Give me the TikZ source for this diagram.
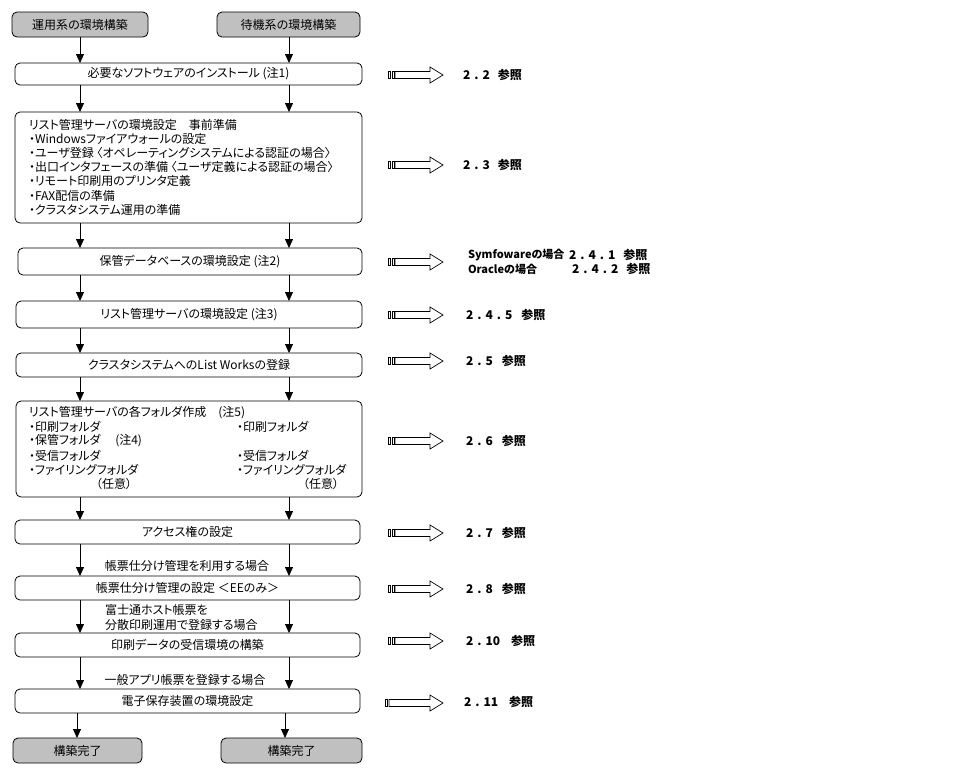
\documentclass[tikz,border=0pt]{standalone}
\usepackage{fontspec}
\setmainfont{Noto Sans CJK JP}[RawFeature=+palt]
\usetikzlibrary{arrows.meta}
\newcommand\dg{\hspace{4pt}.\hspace{4pt}}
\begin{document}
\begin{tikzpicture}[x=1pt,y=-1pt,
  every node/.style={inner sep=0pt,outer sep=0pt,font=\fontsize{12}{14}\selectfont},
  box/.style={draw,line width=0.8pt,rounded corners=5pt,fill=white},
  arr/.style={line width=0.8pt,-{Triangle[width=8pt,length=9pt]}},
  lab/.style={anchor=west,font=\fontsize{12}{14}\selectfont\bfseries},
  labs/.style={anchor=west,font=\fontsize{11}{13}\selectfont\bfseries},
  txt/.style={anchor=west},
  barrow/.pic={
    \draw[line width=0.7pt] (0,-3.5) rectangle (2,3.5);
    \draw[line width=0.7pt] (4,-3.5) rectangle (6,3.5);
    \draw[line width=0.7pt] (7,-3.5) -- (42,-3.5) -- (42,-8) -- (55,0) -- (42,8) -- (42,3.5) -- (7,3.5) -- cycle;
  },
  barrowb/.pic={
    \draw[line width=0.7pt] (0,-3.5) rectangle (2,3.5);
    \draw[line width=0.7pt] (4,-3.5) -- (45,-3.5) -- (45,-8) -- (58,0) -- (45,8) -- (45,3.5) -- (4,3.5) -- cycle;
  }]
\useasboundingbox[fill=white] (0,0) rectangle (960,774);
\definecolor{gfill}{RGB}{192,192,192}
\tikzset{gbox/.style={draw,line width=0.8pt,rounded corners=5pt,fill=gfill}}

\coordinate (cL) at (80,0);
\coordinate (cR) at (289,0);
\coordinate (cL2) at (77,0);
\coordinate (cR2) at (285,0);

% start boxes
\node[gbox,minimum width=136,minimum height=25] (sL) at (80,24.5) {運用系の環境構築};
\node[gbox,minimum width=143,minimum height=25] (sR) at (288.5,24.5) {待機系の環境構築};

% main boxes
\node[box,minimum width=347,minimum height=22] (b1) at (188.5,74) {必要なソフトウェアのインストール (注1)};
\node[box,minimum width=347,minimum height=111] (b2) at (188.5,167.5) {};
\node[anchor=north west,align=left,font=\fontsize{12}{14.2}\selectfont] (b2t) at (29,119) {%
リスト管理サーバの環境設定　事前準備\\
・Windowsファイアウォールの設定\\
・ユーザ登録 〈オペレーティングシステムによる認証の場合〉\\
・出口インタフェースの準備 〈ユーザ定義による認証の場合〉\\
・リモート印刷用のプリンタ定義\\
・FAX配信の準備\\
・クラスタシステム運用の準備};
\node[box,minimum width=344,minimum height=27] (b3) at (190,261.5) {保管データベースの環境設定 (注2)};
\node[box,minimum width=346,minimum height=27] (b4) at (189,314.5) {リスト管理サーバの環境設定 (注3)};
\node[box,minimum width=346,minimum height=24] (b5) at (189,365) {クラスタシステムへのList Worksの登録};
\node[box,minimum width=346,minimum height=96] (b6) at (189,449) {};
\node[txt] (f0) at (29,413) {リスト管理サーバの各フォルダ作成　(注5)};
\node[txt] (f1) at (29,427) {・印刷フォルダ};
\node[txt] (f2) at (29,441) {・保管フォルダ　 (注4)};
\node[txt] (f3) at (29,456) {・受信フォルダ};
\node[txt] (f4) at (29,470) {・ファイリングフォルダ};
\node (f5) at (114,484) {（任意）};
\node[txt] (g1) at (237,427) {・印刷フォルダ};
\node[txt] (g3) at (237,456) {・受信フォルダ};
\node[txt] (g4) at (237,470) {・ファイリングフォルダ};
\node (g5) at (321,484) {（任意）};
\node[box,minimum width=345,minimum height=24] (b7) at (187.5,532) {アクセス権の設定};
\node[box,minimum width=345,minimum height=24] (b8) at (187.5,588) {帳票仕分け管理の設定 ＜EEのみ＞};
\node[box,minimum width=345,minimum height=24] (b9) at (187.5,645) {印刷データの受信環境の構築};
\node[box,minimum width=345,minimum height=24] (b10) at (187.5,701) {電子保存装置の環境設定};

% end boxes
\node[gbox,minimum width=129,minimum height=25] (eL) at (77.5,750.5) {構築完了};
\node[gbox,minimum width=141,minimum height=25] (eR) at (291.5,750.5) {構築完了};

% condition texts
\node (c1) at (187,566) {帳票仕分け管理を利用する場合};
\node[anchor=west] (c2) at (105,610) {富士通ホスト帳票を};
\node[anchor=west] (c3) at (105,625) {分散印刷運用で登録する場合};
\node (c4) at (185,680) {一般アプリ帳票を登録する場合};

% connectors
\foreach \a/\b in {sL/b1,b1/b2,b2/b3,b3/b4,b4/b5,b5/b6,b6/b7,b7/b8,b8/b9,b9/b10}{
  \draw[arr] (\a.south -| cL) -- (\b.north -| cL);
}
\foreach \a/\b in {sR/b1,b1/b2,b2/b3,b3/b4,b4/b5,b5/b6,b6/b7,b7/b8,b8/b9,b9/b10}{
  \draw[arr] (\a.south -| cR) -- (\b.north -| cR);
}
\draw[arr] (b10.south -| cL2) -- (eL.north -| cL2);
\draw[arr] (b10.south -| cR2) -- (eR.north -| cR2);

% reference arrows
\foreach \y in {75,165,262,315,361,441,533,589,641}{
  \pic at (388,\y) {barrow};
}
\pic at (385,703) {barrowb};

% reference labels
\node[lab] (r1) at (463,75) {2\dg 2\hspace{8pt}参照};
\node[lab] (r2) at (463,165) {2\dg 3\hspace{8pt}参照};
\node[labs] (r3a) at (468,255) {Symfowareの場合};
\node[lab] (r3b) at (569,255) {2\dg 4\dg 1\hspace{8pt}参照};
\node[labs] (r3c) at (468,269) {Oracleの場合};
\node[lab] (r3d) at (572,269) {2\dg 4\dg 2\hspace{8pt}参照};
\node[lab] (r4) at (466,315) {2\dg 4\dg 5\hspace{9pt}参照};
\node[lab] (r5) at (466,361) {2\dg 5\hspace{9pt}参照};
\node[lab] (r6) at (466,441) {2\dg 6\hspace{9pt}参照};
\node[lab] (r7) at (466,533) {2\dg 7\hspace{9pt}参照};
\node[lab] (r8) at (466,589) {2\dg 8\hspace{9pt}参照};
\node[lab] (r9) at (466,641) {2\dg 10\hspace{11pt}参照};
\node[lab] (r10) at (464,702) {2\dg 11\hspace{11pt}参照};
\end{tikzpicture}
\end{document}
